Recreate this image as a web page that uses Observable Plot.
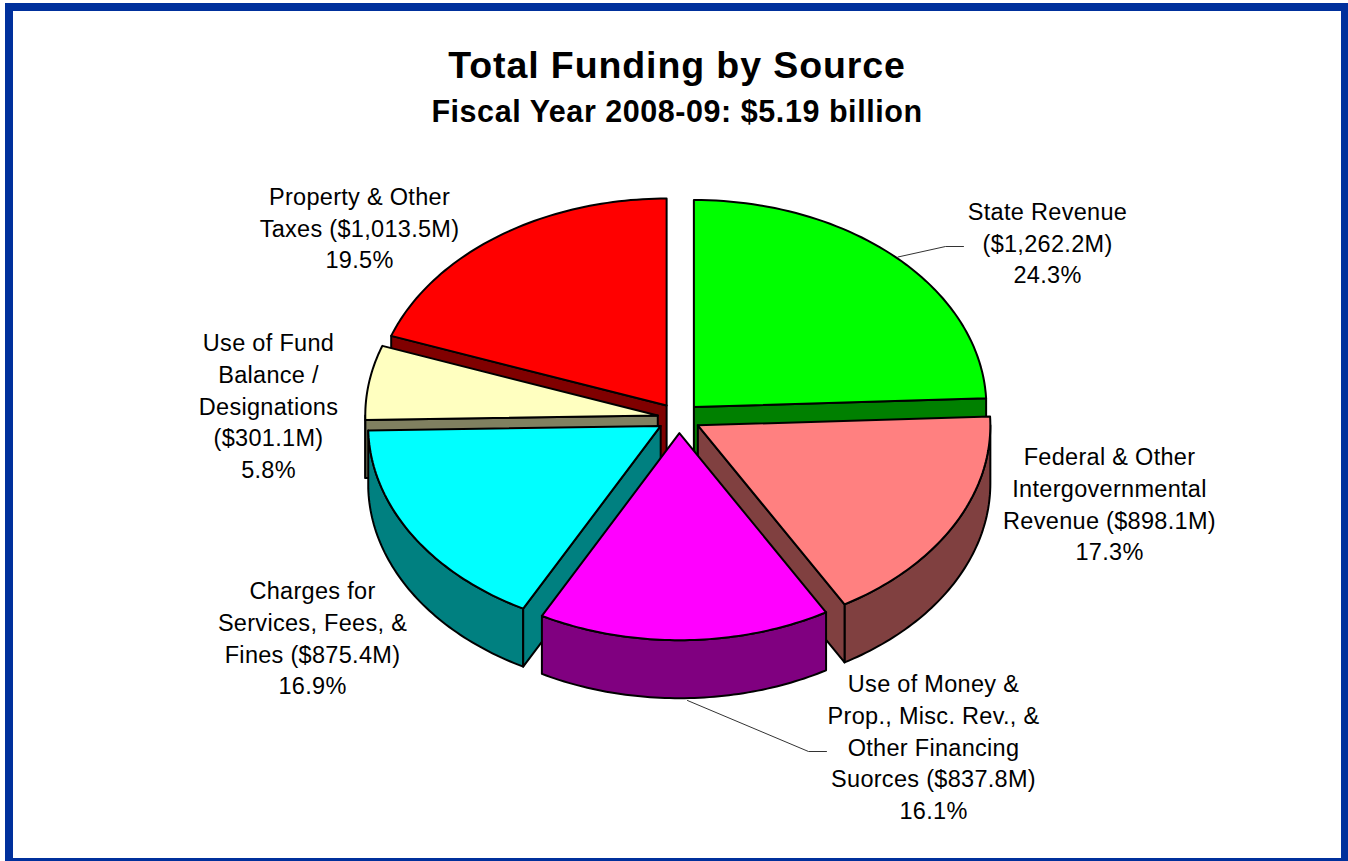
<!DOCTYPE html>
<html>
<head>
<meta charset="utf-8">
<script src="https://cdn.jsdelivr.net/npm/d3@7"></script>
<script src="https://cdn.jsdelivr.net/npm/@observablehq/plot@0.6"></script>
<style>
html,body{margin:0;padding:0;background:#fff;overflow:hidden;}
#page{position:relative;width:1348px;height:861px;overflow:hidden;font-family:"Liberation Sans",Arial,sans-serif;color:#000;}
#frame{position:absolute;left:5px;top:3px;width:1336px;height:855px;box-sizing:border-box;border:solid #00309c;border-width:8px 0 0 8px;}
#rightbar{position:absolute;left:1341px;top:3px;width:7px;height:858px;background:#00309c;}
#bottombar{position:absolute;left:5px;top:858px;width:1343px;height:3px;background:#00309c;}
#title,#subtitle{position:absolute;left:13px;width:1328px;text-align:center;font-weight:bold;white-space:nowrap;margin:0;}
#title{top:42px;font-size:37.5px;line-height:46px;letter-spacing:.9px;}
#subtitle{top:93px;font-size:30.5px;line-height:36px;letter-spacing:.55px;}
#chart{position:absolute;left:13px;top:150px;}
</style>
</head>
<body>
<div id="page">
  <div id="frame"></div><div id="rightbar"></div><div id="bottombar"></div>
  <h1 id="title">Total Funding by Source</h1>
  <h2 id="subtitle">Fiscal Year 2008-09: $5.19 billion</h2>
  <div id="chart"></div>
</div>
<script>
// ---- data, clockwise from twelve o'clock ----
const categories = ["State Revenue","Federal & Other Intergovernmental Revenue","Use of Money & Prop., Misc. Rev., & Other Financing Suorces","Charges for Services, Fees, & Fines","Use of Fund Balance / Designations","Property & Other Taxes"];
const amounts = [1262.2, 898.1, 837.8, 875.4, 301.1, 1013.5];
const labelTexts = [
  "State Revenue\n($1,262.2M)\n24.3%",
  "Federal & Other\nIntergovernmental\nRevenue ($898.1M)\n17.3%",
  "Use of Money &\nProp., Misc. Rev., &\nOther Financing\nSuorces ($837.8M)\n16.1%",
  "Charges for\nServices, Fees, &\nFines ($875.4M)\n16.9%",
  "Use of Fund\nBalance /\nDesignations\n($301.1M)\n5.8%",
  "Property & Other\nTaxes ($1,013.5M)\n19.5%"
];

// ---- styles and layout ----
const topColors = ["#00ff00","#ff8080","#ff00ff","#00ffff","#ffffc0","#ff0000"];
const wallColors = ["#008000","#804040","#800080","#008080","#808060","#800000"];
const paintOrder = [5,0,4,3,1,2];            // back to front
const W = 1328, H = 708, originX = 13, originY = 150;
const cx = 678.5, cy = 417.5, rx = 292.5, ry = 207;   // page pixels
const explode = 0.0735, depth = 58 / ry;
const labelPageX = [1047,1109,933,312,268,359];
const labelPageY = [244,505,748,639,407,229];
const leaderPage = [
  [[897.5,256.5],[945,246],[963,246]],
  [[687,700],[808,751],[826,751]]
];
const ux = px => (px - cx) / rx, uy = py => (py - cy) / ry;

// ---- slices derived from the amounts ----
const arcs = d3.pie().sort(null).value(d => d)(amounts);
const faces = [];
function addFace(id, color, pts) {
  [...pts, pts[0]].forEach(p => faces.push({id, color, x: p[0], y: p[1]}));
}
const rimPoints = (from, to, ox, oy) => d3.range(0, 61).map(k => {
  const t = from + (to - from) * k / 60;
  return [ox + Math.sin(t), oy - Math.cos(t)];
});
paintOrder.forEach(i => {
  const a = arcs[i], mid = (a.startAngle + a.endAngle) / 2;
  const ox = explode * Math.sin(mid), oy = -explode * Math.cos(mid);
  const rim = rimPoints(a.startAngle, a.endAngle, ox, oy);
  const down = p => [p[0], p[1] + depth];
  const apex = [ox, oy];
  // outer wall: only the part of the rim on the near half of the pie
  const from = Math.max(a.startAngle, Math.PI / 2), to = Math.min(a.endAngle, 3 * Math.PI / 2);
  if (to > from) {
    const front = rimPoints(from, to, ox, oy);
    addFace(i + "-outer", wallColors[i], [...front, ...front.map(down).reverse()]);
  }
  // cut faces: only those turned toward the viewer
  if (Math.sin(a.startAngle) < -1e-6) addFace(i + "-cutA", wallColors[i], [apex, rim[0], down(rim[0]), down(apex)]);
  if (Math.sin(a.endAngle) > 1e-6) addFace(i + "-cutB", wallColors[i], [apex, rim[60], down(rim[60]), down(apex)]);
  addFace(i + "-top", topColors[i], [apex, ...rim]);
});

const labels = labelTexts.map((text, i) => ({text, x: ux(labelPageX[i]), y: uy(labelPageY[i] - 3), category: categories[i]}));
const leaders = leaderPage.flatMap((line, i) => line.map(p => ({i, x: ux(p[0]), y: uy(p[1])})));

const plot = Plot.plot({
  width: W, height: H,
  margin: 0,
  style: {background: "transparent", letterSpacing: "0.3px"},
  x: {domain: [-1, 1], range: [cx - rx - originX, cx + rx - originX], axis: null},
  y: {domain: [-1, 1], range: [cy - ry - originY, cy + ry - originY], axis: null},
  color: {type: "identity"},
  marks: [
    Plot.line(leaders, {x: "x", y: "y", z: "i", stroke: "#333", strokeWidth: 1}),
    Plot.line(faces, {x: "x", y: "y", z: "id", fill: "color", stroke: "#000", strokeWidth: 2, strokeLinejoin: "round", curve: "linear"}),
    Plot.text(labels, {x: "x", y: "y", text: "text", fontSize: 23.5, lineHeight: 1.35, fill: "#000", textAnchor: "middle", lineAnchor: "middle", fontFamily: "Liberation Sans, Arial, sans-serif"})
  ]
});
document.getElementById("chart").appendChild(plot);
</script>
</body>
</html>
